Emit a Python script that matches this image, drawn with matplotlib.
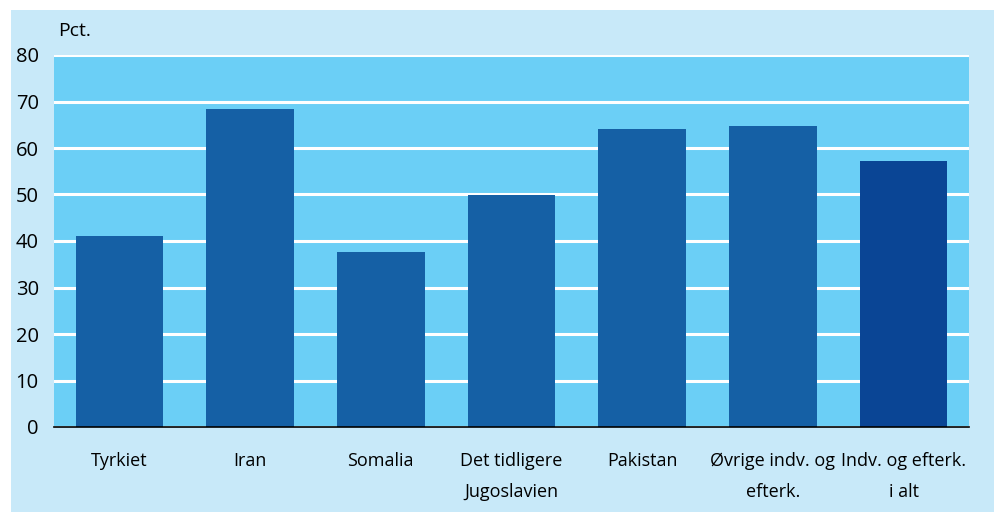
import matplotlib
matplotlib.use("Agg")
import matplotlib.pyplot as plt

plt.rcParams['font.family'] = ['Liberation Sans Narrow', 'Open Sans', 'DejaVu Sans']

categories = ["Tyrkiet", "Iran", "Somalia", "Det tidligere\nJugoslavien", "Pakistan",
              "Øvrige indv. og\nefterk.", "Indv. og efterk.\ni alt"]
values = [41.0, 68.3, 37.6, 49.8, 64.0, 64.8, 57.3]
yticks = [0, 10, 20, 30, 40, 50, 60, 70, 80]

PANEL = "#c8e9f9"
PLOT_BG = "#6bcff6"
BAR = "#1560a5"
BAR_TOTAL = "#0a4595"

W, H = 997, 512
fig = plt.figure(figsize=(W / 100, H / 100), dpi=100)

# light blue panel behind everything
bg = fig.add_axes([11 / W, 0, (994 - 11) / W, (512 - 10) / H], zorder=-1)
bg.set_facecolor(PANEL)
bg.set_xticks([]); bg.set_yticks([])
for s in bg.spines.values():
    s.set_visible(False)

ax = fig.add_axes([54 / W, (H - 427) / H, (969 - 54) / W, (427 - 55) / H])
ax.set_facecolor(PLOT_BG)
colors = [BAR] * (len(values) - 1) + [BAR_TOTAL]
x = range(len(categories))
ax.bar(x, values, width=0.67, color=colors, zorder=3)
ax.set_xlim(-0.5, len(categories) - 0.5)
ax.set_ylim(0, 80)
ax.set_yticks(yticks)
ax.yaxis.grid(True, color="white", linewidth=2.2, zorder=1)
ax.set_axisbelow(True)
for s in ["top", "right", "left"]:
    ax.spines[s].set_visible(False)
ax.spines["bottom"].set_color("black")
ax.spines["bottom"].set_linewidth(1.2)
ax.spines["bottom"].set_zorder(4)
ax.tick_params(axis="both", length=0)
ax.tick_params(axis="y", pad=11, labelsize=14.5)
ax.tick_params(axis="x", pad=18, labelsize=13)
ax.set_xticks(list(x))
ax.set_xticklabels(categories, linespacing=1.9)
fig.text(58 / W, 1 - 31 / H, "Pct.", fontsize=14, va="center", ha="left")

fig.savefig("out.png", dpi=100)
